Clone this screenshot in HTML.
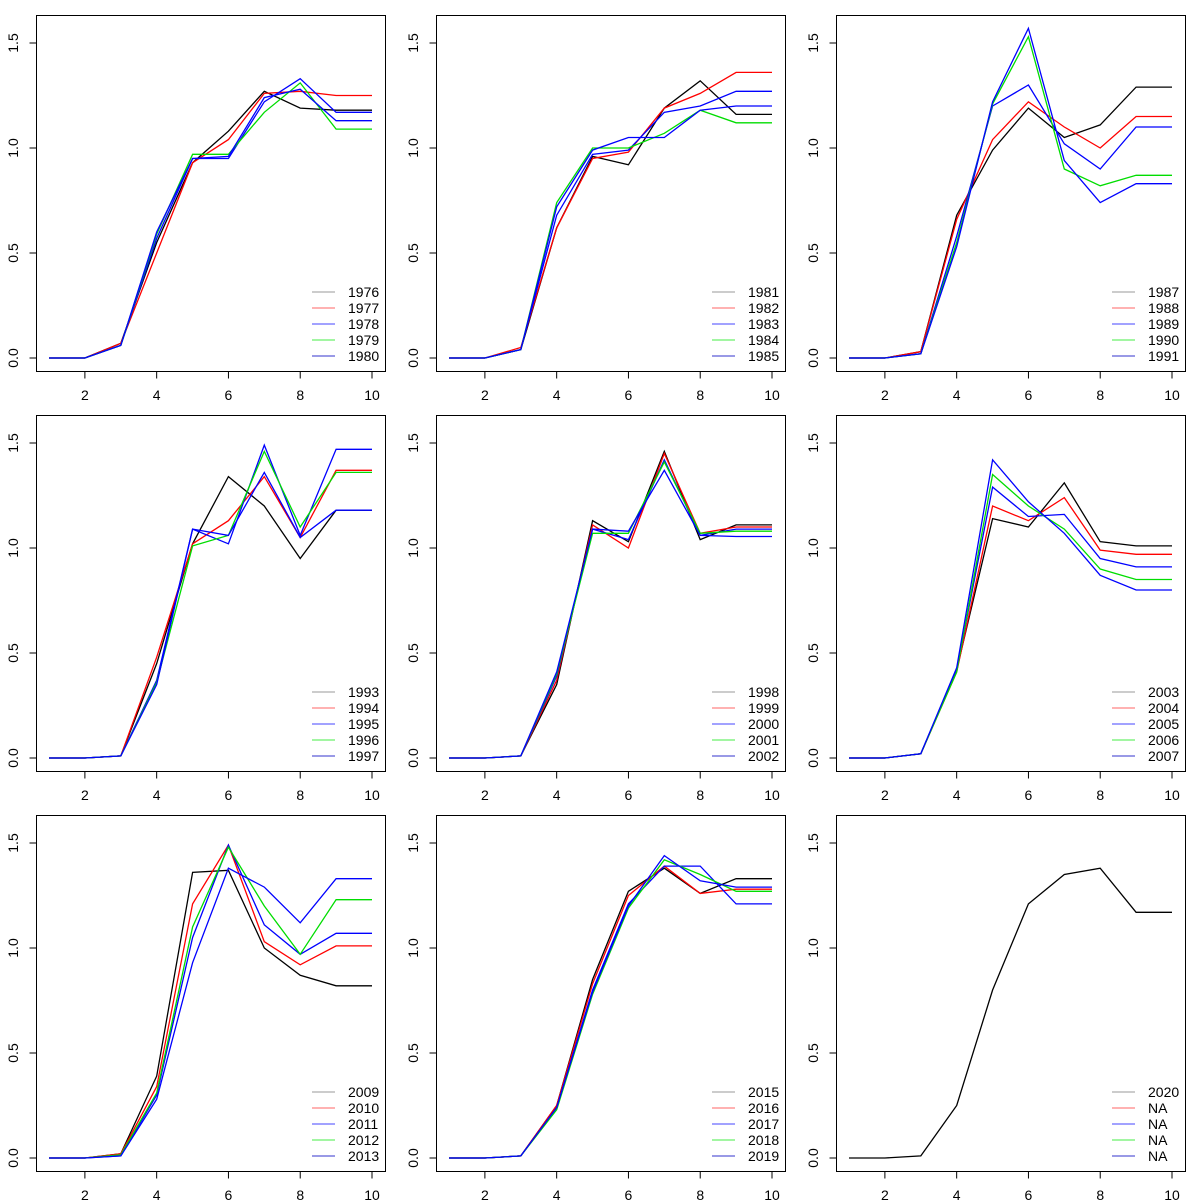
<!DOCTYPE html>
<html><head><meta charset="utf-8">
<style>
html,body{margin:0;padding:0;background:#fff;}
svg{display:block;}
text{font-family:"Liberation Sans",sans-serif;font-size:14px;fill:#000;}
</style></head>
<body>
<svg id="chart" width="1200" height="1200"></svg>
<script>
const xCategories = [1,2,3,4,5,6,7,8,9,10];
const xTickLabels = [2,4,6,8,10];
const yTickValues = [0,0.5,1,1.5];
const yTickLabels = ["0.0","0.5","1.0","1.5"];
const seriesColors = ["#000000","#ff0000","#0000ff","#00dd00","#0000ff"];
const legendColors = ["#999999","#ff6666","#4444ff","#44ee44","#3333cc"];
const panelYears = [
 ["1976","1977","1978","1979","1980"],
 ["1981","1982","1983","1984","1985"],
 ["1987","1988","1989","1990","1991"],
 ["1993","1994","1995","1996","1997"],
 ["1998","1999","2000","2001","2002"],
 ["2003","2004","2005","2006","2007"],
 ["2009","2010","2011","2012","2013"],
 ["2015","2016","2017","2018","2019"],
 ["2020","NA","NA","NA","NA"]
];
const panel1 = [
 [0,0,0.07,0.55,0.93,1.08,1.27,1.19,1.18,1.18],
 [0,0,0.07,0.50,0.93,1.04,1.26,1.27,1.25,1.25],
 [0,0,0.06,0.57,0.95,0.95,1.22,1.33,1.17,1.17],
 [0,0,0.06,0.59,0.97,0.97,1.17,1.31,1.09,1.09],
 [0,0,0.06,0.60,0.95,0.96,1.24,1.28,1.13,1.13]];
const panel2 = [
 [0,0,0.04,0.62,0.96,0.92,1.19,1.32,1.16,1.16],
 [0,0,0.05,0.62,0.95,0.98,1.19,1.26,1.36,1.36],
 [0,0,0.04,0.68,0.97,0.99,1.17,1.20,1.27,1.27],
 [0,0,0.04,0.74,1.00,1.00,1.07,1.18,1.12,1.12],
 [0,0,0.04,0.72,0.99,1.05,1.05,1.18,1.20,1.20]];
const panel3 = [
 [0,0,0.03,0.68,0.99,1.19,1.05,1.11,1.29,1.29],
 [0,0,0.03,0.66,1.04,1.22,1.10,1.00,1.15,1.15],
 [0,0,0.02,0.58,1.20,1.30,1.02,0.90,1.10,1.10],
 [0,0,0.02,0.55,1.21,1.53,0.90,0.82,0.87,0.87],
 [0,0,0.02,0.53,1.22,1.57,0.94,0.74,0.83,0.83]];
const panel4 = [
 [0,0,0.01,0.45,1.02,1.34,1.20,0.95,1.18,1.18],
 [0,0,0.01,0.48,1.02,1.13,1.34,1.05,1.37,1.37],
 [0,0,0.01,0.37,1.09,1.02,1.49,1.06,1.47,1.47],
 [0,0,0.01,0.36,1.01,1.06,1.46,1.10,1.36,1.36],
 [0,0,0.01,0.35,1.09,1.06,1.36,1.05,1.18,1.18]];
const panel5 = [
 [0,0,0.01,0.35,1.13,1.03,1.46,1.04,1.11,1.11],
 [0,0,0.01,0.37,1.11,1.00,1.45,1.07,1.10,1.10],
 [0,0,0.01,0.39,1.09,1.04,1.42,1.06,1.09,1.09],
 [0,0,0.01,0.40,1.07,1.07,1.41,1.07,1.08,1.08],
 [0,0,0.01,0.41,1.09,1.08,1.37,1.06,1.055,1.055]];
const panel6 = [
 [0,0,0.02,0.42,1.14,1.10,1.31,1.03,1.01,1.01],
 [0,0,0.02,0.41,1.20,1.13,1.24,0.99,0.97,0.97],
 [0,0,0.02,0.42,1.29,1.15,1.16,0.95,0.91,0.91],
 [0,0,0.02,0.41,1.35,1.20,1.09,0.90,0.85,0.85],
 [0,0,0.02,0.43,1.42,1.22,1.07,0.87,0.80,0.80]];
const panel7 = [
 [0,0,0.02,0.39,1.36,1.37,1.00,0.87,0.82,0.82],
 [0,0,0.02,0.34,1.21,1.49,1.03,0.92,1.01,1.01],
 [0,0,0.01,0.30,1.05,1.49,1.11,0.97,1.07,1.07],
 [0,0,0.015,0.31,1.10,1.48,1.20,0.97,1.23,1.23],
 [0,0,0.01,0.28,0.93,1.38,1.29,1.12,1.33,1.33]];
const panel8 = [
 [0,0,0.01,0.25,0.85,1.27,1.38,1.26,1.33,1.33],
 [0,0,0.01,0.25,0.83,1.25,1.39,1.26,1.28,1.28],
 [0,0,0.01,0.24,0.80,1.21,1.39,1.39,1.21,1.21],
 [0,0,0.01,0.23,0.78,1.19,1.42,1.35,1.27,1.27],
 [0,0,0.01,0.24,0.79,1.20,1.44,1.32,1.29,1.29]];
const panel9 = [
 [0,0,0.01,0.25,0.80,1.21,1.35,1.38,1.17,1.17]];
const panels = [panel1,panel2,panel3,panel4,panel5,panel6,panel7,panel8,panel9];

const NS = "http://www.w3.org/2000/svg";
const svg = document.getElementById("chart");
function mk(tag, attrs, parent){
  const e = document.createElementNS(NS, tag);
  for (const k in attrs) e.setAttribute(k, attrs[k]);
  parent.appendChild(e);
  return e;
}
panels.forEach((data, p) => {
  const ox = (p % 3) * 400, oy = Math.floor(p / 3) * 400;
  const xs = v => ox + 49 + (v - 1) * (323 / 9);
  const ys = v => oy + 358 - v * 210;
  const g = mk("g", {}, svg);
  
  
  const box = mk("rect", {x: ox + 36.5, y: oy + 15.5, width: 349, height: 356, fill: "none", stroke: "#000", "stroke-width": 1}, g);
  
  
  // x axis
  xTickLabels.forEach(t => {
    const x = xs(t);
    const tk = mk("line", {x1: x, x2: x, y1: oy + 371.5, y2: oy + 378.5, stroke: "#000"}, g);
    
    
    const tl = mk("text", {x: x, y: oy + 400, "text-anchor": "middle"}, g);
    tl.textContent = t;
    
    
  });
  // y axis
  yTickValues.forEach((t, i) => {
    const y = ys(t);
    const tk = mk("line", {x1: ox + 29.5, x2: ox + 36.5, y1: y, y2: y, stroke: "#000"}, g);
    
    
    const tl = mk("text", {x: ox + 18, y: y, "text-anchor": "middle", transform: `rotate(-90 ${ox + 18} ${y})`}, g);
    tl.textContent = yTickLabels[i];
    
    
  });
  // series
  data.forEach((vals, s) => {
    const pts = vals.map((v, i) => xs(xCategories[i]).toFixed(1) + "," + ys(v).toFixed(1)).join(" ");
    const pl = mk("polyline", {points: pts, fill: "none", stroke: seriesColors[s], "stroke-width": 1.3}, g);
    
    
  });
  // legend
  const lg = mk("g", {}, g);
  
  
  panelYears[p].forEach((yr, i) => {
    const y = oy + 292 + i * 16;
    const ln = mk("line", {x1: ox + 312, x2: ox + 335, y1: y, y2: y, stroke: legendColors[i], "stroke-width": 1}, lg);
    
    
    const tx = mk("text", {x: ox + 348, y: y + 5}, lg);
    tx.textContent = yr;
    
    
  });
});
</script>
</body></html>
